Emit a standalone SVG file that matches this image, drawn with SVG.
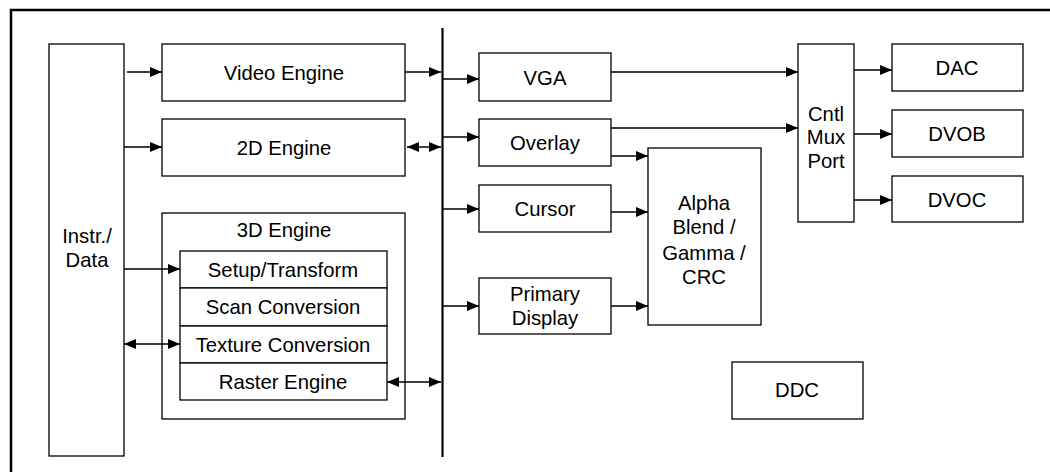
<svg xmlns="http://www.w3.org/2000/svg" width="1050" height="472" viewBox="0 0 1050 472">
<defs>
<marker id="ah" viewBox="0 0 12 10" refX="12" refY="5" markerWidth="12" markerHeight="10" markerUnits="userSpaceOnUse" orient="auto-start-reverse">
<path d="M0,0 L12,5 L0,10 Z" fill="#000"/>
</marker>
<style>
.box{fill:#fff;stroke:#000;stroke-width:1.3}
.t{font-family:"Liberation Sans",Arial,sans-serif;font-size:20.3px;fill:#000;text-anchor:middle}
.c{stroke:#000;stroke-width:1.3;fill:none}
.a{marker-end:url(#ah)}
.d{marker-start:url(#ah);marker-end:url(#ah)}
</style>
</defs>
<rect x="0" y="0" width="1050" height="472" fill="#fff"/>
<g id="frame">
<path d="M11,472 V10 H1050" fill="none" stroke="#000" stroke-width="2.5"/>
</g>
<g id="bus"><line x1="442.5" y1="28" x2="442.5" y2="457" stroke="#000" stroke-width="2.2"/></g>
<g id="instr"><rect class="box" x="49" y="44" width="75" height="412"/><text class="t" x="87" y="243">Instr./</text><text class="t" x="87" y="267">Data</text></g>
<g id="video"><rect class="box" x="162" y="44" width="243" height="57"/><text class="t" x="284" y="80">Video Engine</text></g>
<g id="eng2d"><rect class="box" x="162" y="119" width="243" height="57"/><text class="t" x="284" y="155">2D Engine</text></g>
<g id="eng3d"><rect class="box" x="162" y="213" width="243" height="206"/><text class="t" x="284" y="237">3D Engine</text></g>
<g id="setup"><rect class="box" x="180" y="251" width="207" height="37"/><text class="t" x="283" y="277">Setup/Transform</text></g>
<g id="scan"><rect class="box" x="180" y="288" width="207" height="38"/><text class="t" x="283" y="314">Scan Conversion</text></g>
<g id="texture"><rect class="box" x="180" y="326" width="207" height="37"/><text class="t" x="283" y="352">Texture Conversion</text></g>
<g id="raster"><rect class="box" x="180" y="363" width="207" height="37"/><text class="t" x="283" y="389">Raster Engine</text></g>
<g id="vga"><rect class="box" x="479" y="53" width="132" height="48"/><text class="t" x="545" y="85">VGA</text></g>
<g id="overlay"><rect class="box" x="479" y="119" width="132" height="47"/><text class="t" x="545" y="150">Overlay</text></g>
<g id="cursor"><rect class="box" x="479" y="185" width="132" height="47"/><text class="t" x="545" y="216">Cursor</text></g>
<g id="primary"><rect class="box" x="479" y="278" width="132" height="56"/><text class="t" x="545" y="301">Primary</text><text class="t" x="545" y="325">Display</text></g>
<g id="alpha"><rect class="box" x="648" y="148" width="113" height="177"/><text class="t" x="704" y="210">Alpha</text><text class="t" x="704" y="234">Blend /</text><text class="t" x="704" y="260">Gamma /</text><text class="t" x="704" y="284">CRC</text></g>
<g id="cntl"><rect class="box" x="798" y="44" width="56" height="178"/><text class="t" x="826" y="121">Cntl</text><text class="t" x="826" y="144">Mux</text><text class="t" x="826" y="168">Port</text></g>
<g id="dac"><rect class="box" x="892" y="44" width="131" height="47"/><text class="t" x="957" y="75">DAC</text></g>
<g id="dvob"><rect class="box" x="892" y="110" width="131" height="47"/><text class="t" x="957" y="141">DVOB</text></g>
<g id="dvoc"><rect class="box" x="892" y="176" width="131" height="46"/><text class="t" x="957" y="207">DVOC</text></g>
<g id="ddc"><rect class="box" x="732" y="362" width="131" height="57"/><text class="t" x="797" y="397">DDC</text></g>
<g id="connectors">
<line class="c a" x1="127" y1="72" x2="162" y2="72"/>
<line class="c a" x1="124" y1="147" x2="162" y2="147"/>
<line class="c a" x1="124" y1="269" x2="180" y2="269"/>
<line class="c d" x1="124" y1="344" x2="180" y2="344"/>
<line class="c d" x1="387" y1="382" x2="441" y2="382"/>
<line class="c a" x1="405" y1="72" x2="441" y2="72"/>
<line class="c d" x1="407" y1="147" x2="441" y2="147"/>
<line class="c a" x1="443" y1="79" x2="479" y2="79"/>
<line class="c a" x1="443" y1="137" x2="479" y2="137"/>
<line class="c a" x1="443" y1="209" x2="479" y2="209"/>
<line class="c a" x1="443" y1="306" x2="479" y2="306"/>
<line class="c a" x1="611" y1="156" x2="648" y2="156"/>
<line class="c a" x1="611" y1="212" x2="648" y2="212"/>
<line class="c a" x1="611" y1="306" x2="648" y2="306"/>
<line class="c a" x1="611" y1="72" x2="798" y2="72"/>
<line class="c a" x1="611" y1="128" x2="798" y2="128"/>
<line class="c a" x1="854" y1="70" x2="892" y2="70"/>
<line class="c a" x1="854" y1="134" x2="892" y2="134"/>
<line class="c a" x1="854" y1="200" x2="892" y2="200"/>
</g>
</svg>
